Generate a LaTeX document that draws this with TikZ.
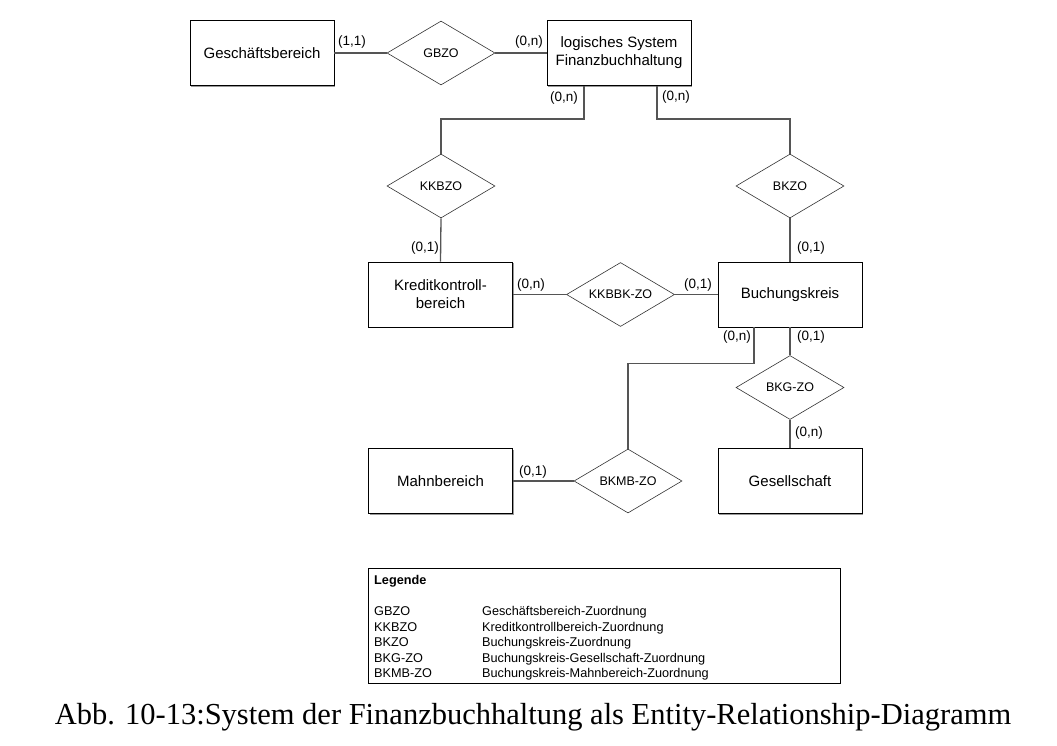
\documentclass[tikz,border=0pt]{standalone}
\usepackage{fontspec}
\setmainfont{Liberation Sans}
\newfontfamily\capfont{Liberation Serif}
\usetikzlibrary{shapes.geometric,shadows}
\definecolor{linegray}{HTML}{555555}
\tikzset{
  entity/.style={draw=black, line width=0.9pt, fill=white, minimum width=144pt, minimum height=65pt, align=center, font=\fontsize{15}{18}\selectfont,
    drop shadow={shadow xshift=1.2pt, shadow yshift=-1.2pt, fill=gray!80, opacity=1}},
  rel/.style={draw=black!80, line width=0.6pt, fill=white, shape=diamond, aspect=1.7, inner sep=0pt, minimum width=108pt, minimum height=64pt, font=\fontsize{12.5}{15}\selectfont},
  card/.style={inner sep=0pt, font=\fontsize{13.5}{16}\selectfont},
  conn/.style={draw=linegray, line width=1.3pt},
  legtxt/.style={inner sep=0pt, anchor=base west, font=\fontsize{12.7}{15}\selectfont}
}
\begin{document}
\begin{tikzpicture}[x=1pt,y=-1pt]
\useasboundingbox (0,0) rectangle (1057,745);
% entities
\node[entity] (gb) at (262,53) {Geschäftsbereich};
\node[entity] (lsf) at (619,53) {logisches System\\Finanzbuchhaltung};
\node[entity] (kkb) at (440.5,294.5) {Kreditkontroll-\\bereich};
\node[entity] (bk) at (790,294.5) {Buchungskreis};
\node[entity] (mb) at (440.5,481) {Mahnbereich};
\node[entity] (ges) at (790,481) {Gesellschaft};
% relationships
\node[rel] (gbzo) at (441,53) {GBZO};
\node[rel] (kkbzo) at (441,186) {KKBZO};
\node[rel] (bkzo) at (790,186) {BKZO};
\node[rel] (kkbbk) at (620.5,294.5) {KKBBK-ZO};
\node[rel] (bkg) at (790,387.5) {BKG-ZO};
\node[rel] (bkmb) at (628,481) {BKMB-ZO};
% connectors
\draw[conn] (gb.east) -- (gbzo.west);
\draw[conn] (gbzo.east) -- (lsf.west);
\draw[conn] ([xshift=-35pt]lsf.south) -- ++(0,33) -| (kkbzo.north);
\draw[conn] ([xshift=38pt]lsf.south) -- ++(0,33) -| (bkzo.north);
\draw[conn] (kkbzo.south) -- (kkb.north);
\draw[conn] (bkzo.south) -- (bk.north);
\draw[conn] (kkb.east) -- (kkbbk.west);
\draw[conn] (kkbbk.east) -- (bk.west);
\draw[conn] (bk.south) -- (bkg.north);
\draw[conn] (bkg.south) -- (ges.north);
\draw[conn] ([xshift=-36pt]bk.south) -- ++(0,36) -| (bkmb.north);
\draw[conn] (bkmb.west) -- (mb.east);
% cardinalities
\node[card] (c1) at (352,42) {(1,1)};
\node[card] (c2) at (529,42) {(0,n)};
\node[card] (c3) at (564,98) {(0,n)};
\node[card] (c4) at (676,97) {(0,n)};
\node[card] (c5) at (425,248) {(0,1)};
\node[card] (c6) at (811,248) {(0,1)};
\node[card] (c7) at (531,285) {(0,n)};
\node[card] (c8) at (698,285) {(0,1)};
\node[card] (c9) at (737,337) {(0,n)};
\node[card] (c10) at (811,337) {(0,1)};
\node[card] (c11) at (809,433) {(0,n)};
\node[card] (c12) at (533,472) {(0,1)};
% legend
\node[draw=black, line width=0.9pt, fill=white, minimum width=472pt, minimum height=115pt, inner sep=0pt,
  drop shadow={shadow xshift=1pt, shadow yshift=-1pt, fill=gray!80, opacity=1}] (leg) at (604,625.5) {};
\node[legtxt, font=\bfseries\fontsize{12.7}{15}\selectfont] (legt) at (374,584.5) {Legende};
\node[legtxt] (l1a) at (374,615.5) {GBZO};
\node[legtxt] (l1b) at (482,615.5) {Geschäftsbereich-Zuordnung};
\node[legtxt] (l2a) at (374,631) {KKBZO};
\node[legtxt] (l2b) at (482,631) {Kreditkontrollbereich-Zuordnung};
\node[legtxt] (l3a) at (374,646.5) {BKZO};
\node[legtxt] (l3b) at (482,646.5) {Buchungskreis-Zuordnung};
\node[legtxt] (l4a) at (374,662) {BKG-ZO};
\node[legtxt] (l4b) at (482,662) {Buchungskreis-Gesellschaft-Zuordnung};
\node[legtxt] (l5a) at (374,677.5) {BKMB-ZO};
\node[legtxt] (l5b) at (482,677.5) {Buchungskreis-Mahnbereich-Zuordnung};
% caption
\node[inner sep=0pt, font=\capfont\fontsize{30.5}{34}\selectfont] (cap) at (533,717) {Abb. 10-13:System der Finanzbuchhaltung als Entity-Relationship-Diagramm};
\end{tikzpicture}
\end{document}
